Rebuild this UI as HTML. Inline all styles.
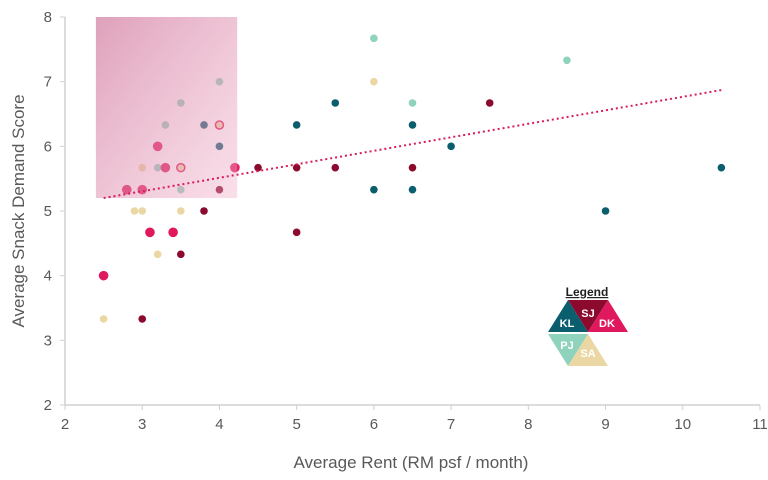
<!DOCTYPE html>
<html><head><meta charset="utf-8"><style>
body{margin:0;background:#fff;}
svg{display:block;font-family:"Liberation Sans Narrow","Liberation Sans",sans-serif;}
</style></head><body>
<svg id="chart" width="768" height="480">
<defs>
<linearGradient id="hl" x1="0" y1="0" x2="1" y2="1">
<stop offset="0" stop-color="rgb(205,110,150)" stop-opacity="0.65"/>
<stop offset="1" stop-color="rgb(240,175,200)" stop-opacity="0.4"/>
</linearGradient>
</defs>
<g id="axes"></g>
<g id="marks"></g>
<rect id="hlrect" fill="url(#hl)"/>
<line id="trend" stroke="#d81b5a" stroke-width="2" stroke-dasharray="2,3"/>
<text x="411" y="468" text-anchor="middle" font-size="17" fill="#595959">Average Rent (RM psf / month)</text>
<text transform="translate(24,211) rotate(-90)" text-anchor="middle" font-size="17" fill="#595959">Average Snack Demand Score</text>
<g>
<text x="587" y="296" text-anchor="middle" font-size="12" font-weight="bold" fill="#222" text-decoration="underline">Legend</text>
<polygon points="548,332 568,300 588,332" fill="#0b5e6e"/>
<polygon points="568,300 608,300 588,332" fill="#8b0a2e"/>
<polygon points="588,332 608,300 628,332" fill="#e0195e"/>
<polygon points="548,334 588,334 568,366" fill="#8fd3bd"/>
<polygon points="568,366 588,334 608,366" fill="#ead7a3"/>
<g font-size="11" font-weight="bold" fill="#fff" text-anchor="middle">
<text x="567" y="327">KL</text><text x="588" y="317">SJ</text><text x="607" y="327">DK</text>
<text x="567" y="349">PJ</text><text x="588" y="357">SA</text>
</g>
</g>
</svg>
<script>
const xTicks=[2,3,4,5,6,7,8,9,10,11];
const yTicks=[2,3,4,5,6,7,8];
const klX=[3.8,4,5.5,5,6.5,7,6,6.5,9,10.5];
const klY=[6.33,6,6.67,6.33,6.33,6,5.33,5.33,5,5.67];
const sjX=[7.5,4.5,5,5.5,6.5,4,3.8,5,3.5,3];
const sjY=[6.67,5.67,5.67,5.67,5.67,5.33,5,4.67,4.33,3.33];
const dkX=[3.2,3.3,4.2,2.8,3,3.1,3.4,2.5];
const dkY=[6,5.67,5.67,5.33,5.33,4.67,4.67,4];
const pjX=[6,8.5,6.5,3.5,4,3.5,3.3,3.2];
const pjY=[7.67,7.33,6.67,5.33,7,6.67,6.33,5.67];
const saX=[6,3,2.9,3,3.5,3.2,2.5];
const saY=[7,5.67,5,5,5,4.33,3.33];
const saRingX=[4,3.5];
const saRingY=[6.33,5.67];
const trendX=[2.5,10.5];
const trendY=[5.2,6.87];
const hlX=[2.4,4.23];
const hlY=[8,5.2];
const sx=v=>65+(v-2)*77.22;
const sy=v=>405-(v-2)*64.67;
const NS="http://www.w3.org/2000/svg";
const ax=document.getElementById('axes');
function mk(tag,attrs,parent){const e=document.createElementNS(NS,tag);for(const k in attrs)e.setAttribute(k,attrs[k]);parent.appendChild(e);return e;}
let l=mk('line',{x1:65,y1:405,x2:760,y2:405,stroke:'#d0d0d0','stroke-width':1.5},ax);


l=mk('line',{x1:65,y1:17,x2:65,y2:405,stroke:'#d0d0d0','stroke-width':1.5},ax);


xTicks.forEach(t=>{mk('line',{x1:sx(t),y1:405,x2:sx(t),y2:410,stroke:'#d0d0d0'},ax);
const tx=mk('text',{x:sx(t),y:429,'text-anchor':'middle','font-size':15,fill:'#595959'},ax);tx.textContent=t;

});
yTicks.forEach(t=>{mk('line',{x1:60,y1:sy(t),x2:65,y2:sy(t),stroke:'#d0d0d0'},ax);
const tx=mk('text',{x:52,y:sy(t)+5,'text-anchor':'end','font-size':15,fill:'#595959'},ax);tx.textContent=t;

});
const mg=document.getElementById('marks');
function series(xs,ys,color,r,name,stroke){xs.forEach((x,i)=>{const c=mk('circle',{cx:sx(x),cy:sy(ys[i]),r:r,fill:color},mg);
if(stroke){c.setAttribute('stroke',stroke);c.setAttribute('stroke-width',1.5);}

});}
series(pjX,pjY,'#8fd3bd',3.8,'point-pj');
series(sjX,sjY,'#8b0a2e',3.8,'point-sj');
series(klX,klY,'#0b5e6e',3.8,'point-kl');
series(dkX,dkY,'#e0195e',4.8,'point-dk');
series(saX,saY,'#ead7a3',3.8,'point-sa');
series(saRingX,saRingY,'#ead7a3',4,'point-sa-dk-overlap','#e0195e');
const r=document.getElementById('hlrect');
r.setAttribute('x',sx(hlX[0]));r.setAttribute('y',sy(hlY[0]));
r.setAttribute('width',sx(hlX[1])-sx(hlX[0]));r.setAttribute('height',sy(hlY[1])-sy(hlY[0]));
const tl=document.getElementById('trend');
tl.setAttribute('x1',sx(trendX[0]));tl.setAttribute('y1',sy(trendY[0]));
tl.setAttribute('x2',sx(trendX[1]));tl.setAttribute('y2',sy(trendY[1]));
</script>
</body></html>
